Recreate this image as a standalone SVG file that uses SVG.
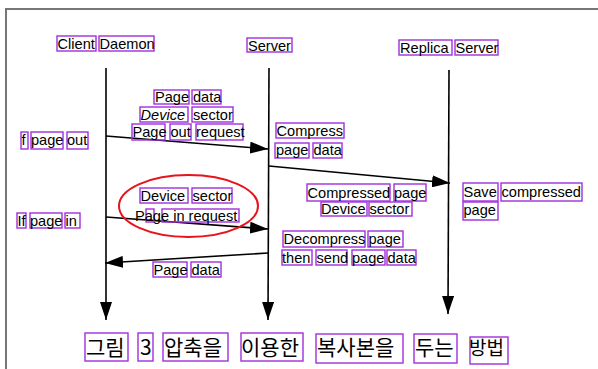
<svg xmlns="http://www.w3.org/2000/svg" width="598" height="369" viewBox="0 0 598 369">
<style>
.t{font-family:"Liberation Sans",Arial,sans-serif;font-size:14.6px;fill:#000}
.k{font-family:"Noto Sans CJK KR",sans-serif;font-size:21px;fill:#000}
.b{fill:none;stroke:#a030dc;stroke-width:1.4}
.ln{fill:none;stroke:#000;stroke-width:1.6}
.fr{fill:none;stroke:#777;stroke-width:2}
</style>
<defs>
<marker id="ah" markerUnits="userSpaceOnUse" markerWidth="18" markerHeight="12" refX="18" refY="6" orient="auto">
<path d="M0,0 L18,6 L0,12 z" fill="#000"/>
</marker>
</defs>
<rect width="598" height="369" fill="#fff"/>
<g id="frame">
<line class="fr" x1="5" y1="9" x2="598" y2="9"/>
<line class="fr" x1="6" y1="8" x2="6" y2="369"/>
</g>
<g id="connectors">
<line class="ln" x1="106" y1="68" x2="106" y2="320" marker-end="url(#ah)"/>
<line class="ln" x1="269" y1="68" x2="268" y2="320" marker-end="url(#ah)"/>
<line class="ln" x1="449" y1="70" x2="448" y2="314" marker-end="url(#ah)"/>
<line class="ln" x1="106" y1="136" x2="268" y2="149" marker-end="url(#ah)"/>
<line class="ln" x1="269" y1="166" x2="450" y2="183" marker-end="url(#ah)"/>
<line class="ln" x1="106" y1="217" x2="268" y2="229" marker-end="url(#ah)"/>
<line class="ln" x1="268" y1="253" x2="105" y2="263" marker-end="url(#ah)"/>
</g>
<g id="client">
<rect class="b" x="57" y="36" width="39" height="15"/><rect class="b" x="99" y="36" width="55" height="15"/>
<text class="t" y="48.5"><tspan x="57.5">Client</tspan><tspan x="99.5">Daemon</tspan></text>
</g>
<g id="server">
<rect class="b" x="247" y="38" width="45" height="14"/>
<text class="t" x="248" y="50.5">Server</text>
</g>
<g id="replica">
<rect class="b" x="399" y="40" width="53" height="15"/><rect class="b" x="455" y="40" width="43" height="15"/>
<text class="t" y="52.5"><tspan x="400">Replica</tspan><tspan x="455.5">Server</tspan></text>
</g>
<g id="msg-page-out">
<rect class="b" x="154" y="90" width="35" height="14"/><rect class="b" x="192" y="90" width="29" height="14"/>
<text class="t" y="101.5"><tspan x="155">Page</tspan><tspan x="193">data</tspan></text>
<rect class="b" x="140" y="107" width="48" height="15"/><rect class="b" x="192" y="107" width="41" height="15"/>
<text class="t" y="119.5"><tspan x="140.5" font-style="italic">Device</tspan><tspan x="193">sector</tspan></text>
<rect class="b" x="132" y="124" width="33" height="16"/><rect class="b" x="170" y="124" width="21" height="16"/><rect class="b" x="196" y="124" width="47" height="16"/>
<text class="t" y="136.5"><tspan x="132.5">Page</tspan><tspan x="170.5">out</tspan><tspan x="196">request</tspan></text>
</g>
<g id="if-page-out">
<rect class="b" x="21" y="132" width="7" height="17"/><rect class="b" x="31" y="132" width="32" height="17"/><rect class="b" x="67" y="132" width="21" height="17"/>
<text class="t" y="144.5"><tspan x="21.5">f</tspan><tspan x="31">page</tspan><tspan x="67">out</tspan></text>
</g>
<g id="if-page-in">
<rect class="b" x="17" y="213" width="9" height="15"/><rect class="b" x="30" y="213" width="32" height="15"/><rect class="b" x="65" y="213" width="15" height="15"/>
<text class="t" y="225.5"><tspan x="17.5">If</tspan><tspan x="30">page</tspan><tspan x="65.5">in</tspan></text>
</g>
<g id="msg-page-in">
<ellipse cx="188.5" cy="206" rx="69.5" ry="31" fill="none" stroke="#e8141c" stroke-width="2"/>
<rect class="b" x="140" y="188" width="48" height="15"/><rect class="b" x="192" y="188" width="40" height="15"/>
<text class="t" y="200.5"><tspan x="140.5">Device</tspan><tspan x="192.5">sector</tspan></text>
<rect class="b" x="146" y="209" width="8" height="13"/><rect class="b" x="162" y="209" width="77" height="13"/>
<text class="t" x="135" y="220.5">Page in request</text>
</g>
<g id="compress">
<rect class="b" x="276" y="123" width="68" height="15"/>
<text class="t" x="276.5" y="135.5">Compress</text>
<rect class="b" x="275" y="143" width="34" height="15"/><rect class="b" x="313" y="143" width="29" height="15"/>
<text class="t" y="154.5"><tspan x="276">page</tspan><tspan x="313.5">data</tspan></text>
</g>
<g id="msg-compressed">
<rect class="b" x="307" y="184" width="83" height="17"/><rect class="b" x="394" y="184" width="32" height="17"/>
<text class="t" y="197.5"><tspan x="307.5">Compressed</tspan><tspan x="394">page</tspan></text>
<rect class="b" x="321" y="202" width="46" height="14"/><rect class="b" x="369" y="202" width="43" height="14"/>
<text class="t" y="213.5"><tspan x="321">Device</tspan><tspan x="369.5">sector</tspan></text>
</g>
<g id="save">
<rect class="b" x="463" y="183" width="35" height="18"/><rect class="b" x="501" y="183" width="81" height="18"/>
<text class="t" y="196.5"><tspan x="463.5">Save</tspan><tspan x="501.5">compressed</tspan></text>
<rect class="b" x="463" y="202" width="35" height="18"/>
<text class="t" x="463.5" y="214.5">page</text>
</g>
<g id="decompress">
<rect class="b" x="283" y="231" width="82" height="16"/><rect class="b" x="368" y="231" width="35" height="16"/>
<text class="t" y="243.5"><tspan x="283.5">Decompress</tspan><tspan x="368.5">page</tspan></text>
<rect class="b" x="282" y="250" width="30" height="15"/><rect class="b" x="316" y="250" width="31" height="15"/><rect class="b" x="352" y="250" width="33" height="15"/><rect class="b" x="387" y="250" width="29" height="15"/>
<text class="t" y="262.5"><tspan x="282">then</tspan><tspan x="316.5">send</tspan><tspan x="352">page</tspan><tspan x="387.5">data</tspan></text>
</g>
<g id="msg-page-data">
<rect class="b" x="153" y="262" width="34" height="15"/><rect class="b" x="191" y="262" width="30" height="15"/>
<text class="t" y="274.5"><tspan x="153.5">Page</tspan><tspan x="191.5">data</tspan></text>
</g>
<g id="caption">
<rect class="b" x="85" y="333" width="43" height="28"/><rect class="b" x="138" y="333" width="15" height="28"/><rect class="b" x="163" y="333" width="65" height="28"/><rect class="b" x="241" y="333" width="62" height="28"/><rect class="b" x="316" y="334" width="87" height="29"/><rect class="b" x="414" y="334" width="43" height="29"/><rect class="b" x="470" y="337" width="38" height="27"/>
<text class="k" y="355"><tspan x="86">그림</tspan><tspan x="140">3</tspan><tspan x="164">압축을</tspan><tspan x="241">이용한</tspan><tspan x="317">복사본을</tspan><tspan x="415">두는</tspan><tspan x="469" font-size="19">방법</tspan></text>
</g>
</svg>
